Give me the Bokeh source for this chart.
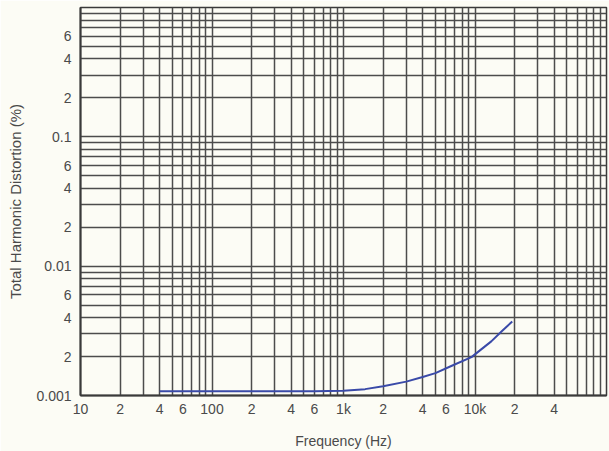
from bokeh.plotting import figure
from bokeh.models import FixedTicker, CustomJSTickFormatter, Range1d
from bokeh.embed import file_html
from bokeh.resources import INLINE

# --- data ---
freq_hz = [40, 100, 300, 600, 1000, 1460, 2000, 3000, 4000, 5000, 6600, 9400, 13300, 15900, 19200]
thd_pct = [0.00108, 0.00108, 0.00108, 0.00108, 0.00109, 0.00112, 0.00118, 0.00128, 0.00139, 0.00149,
           0.00169, 0.00198, 0.00262, 0.00312, 0.00374]

x_ticks = [10, 20, 40, 60, 100, 200, 400, 600, 1000, 2000, 4000, 6000, 10000, 20000, 40000]
x_tick_labels = ["10", "2", "4", "6", "100", "2", "4", "6", "1k", "2", "4", "6", "10k", "2", "4"]
y_ticks = [0.001, 0.002, 0.004, 0.006, 0.01, 0.02, 0.04, 0.06, 0.1, 0.2, 0.4, 0.6]
y_tick_labels = ["0.001", "2", "4", "6", "0.01", "2", "4", "6", "0.1", "2", "4", "6"]

x_grid = [m * 10 ** d for d in range(1, 5) for m in range(1, 10)] + [100000]
y_grid = [m * 10.0 ** d for d in range(-3, 0) for m in range(1, 10)] + [1.0]

bg = "#fcfcf5"
ink = "#4a4a4a"
font = "Liberation Sans"

p = figure(width=609, height=451, x_axis_type="log", y_axis_type="log",
           x_range=Range1d(10, 100000), y_range=Range1d(0.001, 1),
           output_backend="svg", toolbar_location=None,
           min_border_left=80, min_border_right=3, min_border_top=7, min_border_bottom=54,
           background_fill_color=bg, border_fill_color=bg)

p.outline_line_color = "#3a3a3a"
p.outline_line_width = 1.5

p.xgrid.ticker = FixedTicker(ticks=x_grid)
p.ygrid.ticker = FixedTicker(ticks=y_grid)
for g in (p.xgrid, p.ygrid):
    g.grid_line_color = "#4c4c4c"
    g.grid_line_width = 1.5
    g.grid_line_alpha = 1.0

fmt_code = """
let best = 0; let bd = 1e9;
for (let i = 0; i < tks.length; i++) {
  const d = Math.abs(Math.log10(tks[i]) - Math.log10(tick));
  if (d < bd) { bd = d; best = i; }
}
return lbls[best];
"""
p.xaxis.ticker = FixedTicker(ticks=x_ticks)
p.xaxis.formatter = CustomJSTickFormatter(args=dict(tks=x_ticks, lbls=x_tick_labels), code=fmt_code)
p.yaxis.ticker = FixedTicker(ticks=y_ticks)
p.yaxis.formatter = CustomJSTickFormatter(args=dict(tks=y_ticks, lbls=y_tick_labels), code=fmt_code)

p.xaxis.axis_label = "Frequency (Hz)"
p.yaxis.axis_label = "Total Harmonic Distortion (%)"

for ax in (p.xaxis, p.yaxis):
    ax.major_tick_line_color = None
    ax.minor_tick_line_color = None
    ax.major_tick_out = 0
    ax.major_tick_in = 0
    ax.axis_line_color = "#3a3a3a"
    ax.axis_line_width = 2
    ax.major_label_text_font = font
    ax.major_label_text_font_size = "14px"
    ax.major_label_text_color = ink
    ax.axis_label_text_font = font
    ax.axis_label_text_font_style = "normal"
    ax.axis_label_text_color = ink

p.xaxis.axis_label_text_font_size = "14px"
p.yaxis.axis_label_text_font_size = "15px"
p.xaxis.major_label_standoff = 5
p.xaxis.axis_label_standoff = 13
p.yaxis.major_label_standoff = 9
p.yaxis.axis_label_standoff = 9

p.line(freq_hz, thd_pct, line_color="#3a4aa8", line_width=2)

open("out.html", "w").write(file_html(p, INLINE))
